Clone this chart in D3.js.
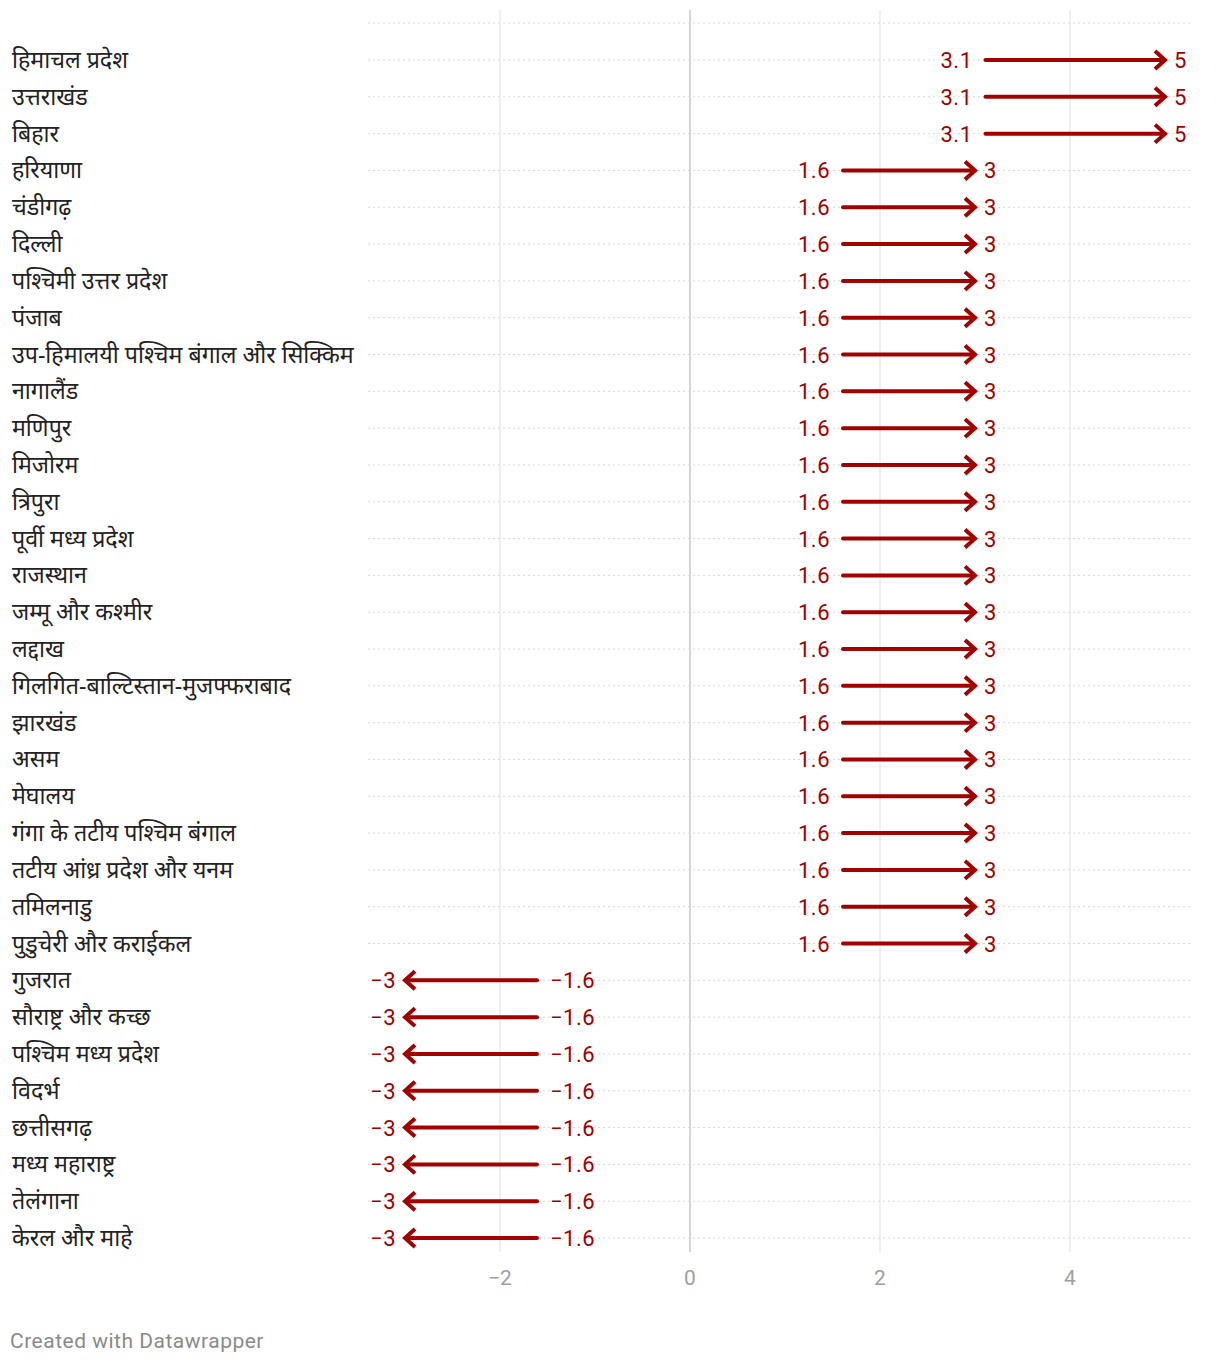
<!DOCTYPE html>
<html><head><meta charset="utf-8">
<script src="https://cdn.jsdelivr.net/npm/d3@7"></script>
<style>
body{margin:0;background:#fff;}
svg{display:block;font-family:Roboto,"Noto Sans",sans-serif;}
</style></head><body>
<svg id="c" width="1220" height="1364"></svg>
<script>
const regions = ["हिमाचल प्रदेश","उत्तराखंड","बिहार","हरियाणा","चंडीगढ़","दिल्ली","पश्चिमी उत्तर प्रदेश","पंजाब","उप-हिमालयी पश्चिम बंगाल और सिक्किम","नागालैंड","मणिपुर","मिजोरम","त्रिपुरा","पूर्वी मध्य प्रदेश","राजस्थान","जम्मू और कश्मीर","लद्दाख","गिलगित-बाल्टिस्तान-मुजफ्फराबाद","झारखंड","असम","मेघालय","गंगा के तटीय पश्चिम बंगाल","तटीय आंध्र प्रदेश और यनम","तमिलनाडु","पुडुचेरी और कराईकल","गुजरात","सौराष्ट्र और कच्छ","पश्चिम मध्य प्रदेश","विदर्भ","छत्तीसगढ़","मध्य महाराष्ट्र","तेलंगाना","केरल और माहे"];
const startValues = [3.1,3.1,3.1,1.6,1.6,1.6,1.6,1.6,1.6,1.6,1.6,1.6,1.6,1.6,1.6,1.6,1.6,1.6,1.6,1.6,1.6,1.6,1.6,1.6,1.6,-1.6,-1.6,-1.6,-1.6,-1.6,-1.6,-1.6,-1.6];
const endValues = [5,5,5,3,3,3,3,3,3,3,3,3,3,3,3,3,3,3,3,3,3,3,3,3,3,-3,-3,-3,-3,-3,-3,-3,-3];
const xTicks = [-2,0,2,4];

const svg = d3.select("#c");
const x = d3.scaleLinear().domain([-2,4]).range([500,1070]);
const y = d3.scalePoint().domain(regions).range([60,1238]);
const red = "#a30000";
const fmt = v => (v<0?"\u2212":"") + Math.abs(v);

// vertical grid
svg.append("g").selectAll("line").data(xTicks).join("line")
  .attr("x1",d=>x(d)).attr("x2",d=>x(d)).attr("y1",10).attr("y2",1252)
  .attr("stroke",d=>d===0?"#c8c8c8":"#e4e4e4").attr("stroke-width",d=>d===0?1.5:1.2);

// dotted row lines
const rowYs = [y(regions[0]) - 37].concat(regions.map(r=>y(r)));
svg.append("g").selectAll("line").data(rowYs).join("line")
  .attr("x1",368).attr("x2",1190).attr("y1",d=>d).attr("y2",d=>d)
  .attr("stroke","#d8d8d8").attr("stroke-width",1).attr("stroke-dasharray","2,3");

// axis labels
svg.append("g").selectAll("text").data(xTicks).join("text")
  .attr("x",d=>x(d)).attr("y",1285).attr("text-anchor","middle")
  .attr("fill","#a0a0a0").attr("font-size",21).text(d=>fmt(d));

// region labels
svg.append("g").selectAll("text").data(regions).join("text")
  .attr("x",12).attr("y",d=>y(d)+8).attr("fill","#222").attr("font-size",23.2)
  .attr("font-family","'Noto Sans',sans-serif").text(d=>d);

const rows = regions.map((r,i)=>({r,s:startValues[i],e:endValues[i]}));
const g = svg.append("g");
rows.forEach(d=>{
  const yy = y(d.r);
  const dir = d.e > d.s ? 1 : -1;
  const xs = x(d.s) + dir*1, xe = x(d.e);
  g.append("line").attr("x1",xs).attr("x2",xe-dir*2).attr("y1",yy).attr("y2",yy)
    .attr("stroke",red).attr("stroke-width",4).attr("stroke-linecap","round");
  g.append("path").attr("d",`M${xe-dir*10},${yy-9}L${xe},${yy}L${xe-dir*10},${yy+9}`)
    .attr("fill","none").attr("stroke",red).attr("stroke-width",4)
    .attr("stroke-linecap","butt").attr("stroke-linejoin","miter");
  g.append("text").attr("x",x(d.s)-dir*12).attr("y",yy+8)
    .attr("text-anchor",dir>0?"end":"start").attr("fill",red).attr("font-size",22)
    .attr("letter-spacing",0.5).text(fmt(d.s));
  g.append("text").attr("x",xe+dir*9).attr("y",yy+8)
    .attr("text-anchor",dir>0?"start":"end").attr("fill",red).attr("font-size",22)
    .attr("letter-spacing",0.5).text(fmt(d.e));
});

svg.append("text").attr("x",10).attr("y",1348).attr("fill","#8a8a8a").attr("font-size",21)
  .attr("letter-spacing",0.5).text("Created with Datawrapper");
</script></body></html>
